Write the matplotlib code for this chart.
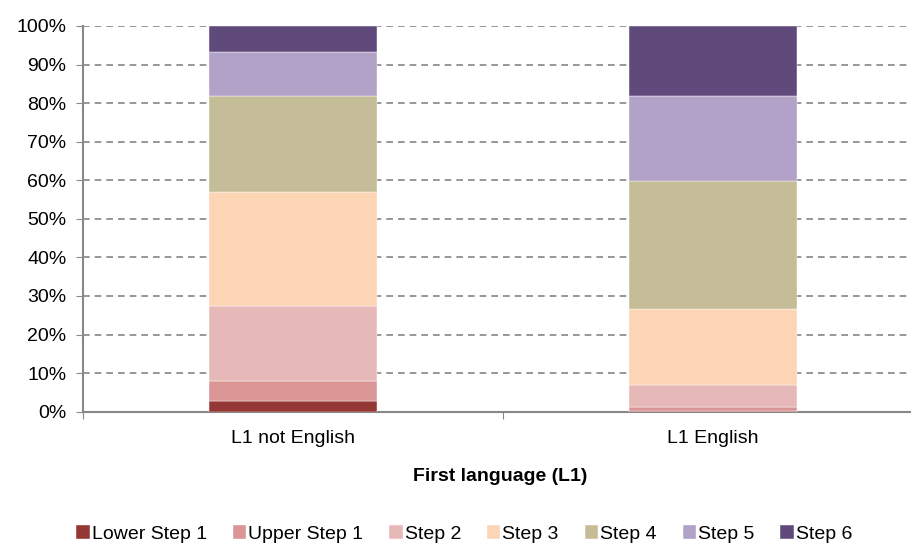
import matplotlib.pyplot as plt
import numpy as np

plt.rcParams['font.family'] = ['Liberation Sans', 'DejaVu Sans']

# data (percent of each group)
groups = ["L1 not English", "L1 English"]
steps = ["Lower Step 1", "Upper Step 1", "Step 2", "Step 3", "Step 4", "Step 5", "Step 6"]
l1_not_english = [2.8, 5.2, 19.5, 29.5, 24.85, 11.45, 6.7]
l1_english = [0.2, 1.1, 5.7, 19.6, 33.2, 22.1, 18.1]
colors = ["#953735", "#D99694", "#E6B9B8", "#FCD5B5", "#C4BD97", "#B3A2C7", "#604A7B"]

vals = np.array([l1_not_english, l1_english]).T
x = np.arange(len(groups))

fig = plt.figure(figsize=(9.12, 5.45), dpi=100)
# axes runs a little past the right edge, as in the reference
ax = fig.add_axes([83 / 912, 0.2446, 840 / 912, 0.7077])

bottom = np.zeros(len(groups))
for name, v, c in zip(steps, vals, colors):
    ax.bar(x, v, width=0.4, bottom=bottom, color=c, label=name,
           edgecolor="white", linewidth=0.3, zorder=3)
    bottom += v

ax.set_xlim(-0.5, 1.5)
ax.set_ylim(0, 100)
ax.set_yticks(np.arange(0, 101, 10))
ax.set_yticklabels([f"{t}%" for t in range(0, 101, 10)], fontsize=14)
ax.yaxis.grid(True, linestyle=(0, (4, 3)), color="#858585", linewidth=1.2, zorder=0)

ax.set_xticks([-0.5, 0.5, 1.5])
ax.set_xticklabels([])
ax.set_xticks(x, minor=True)
ax.set_xticklabels(groups, minor=True, fontsize=14)
ax.tick_params(axis="x", which="minor", length=0, pad=13)
ax.tick_params(axis="x", which="major", length=5, color="#888888", direction="out")
ax.tick_params(axis="y", length=5, color="#888888", direction="out", pad=7)

for s in ["top", "right"]:
    ax.spines[s].set_visible(False)
for s in ["left", "bottom"]:
    ax.spines[s].set_color("#888888")
    ax.spines[s].set_linewidth(1.5)

ax.set_xlabel("First language (L1)", fontsize=14, fontweight="bold")
ax.xaxis.set_label_coords(0.497, -0.145)

leg = fig.legend(loc="center", bbox_to_anchor=(0.509, 0.02), ncol=7, frameon=False,
                 fontsize=14, handlelength=0.7, handleheight=0.7,
                 handletextpad=0.1, columnspacing=1.33)

fig.savefig("out.png", dpi=100)
